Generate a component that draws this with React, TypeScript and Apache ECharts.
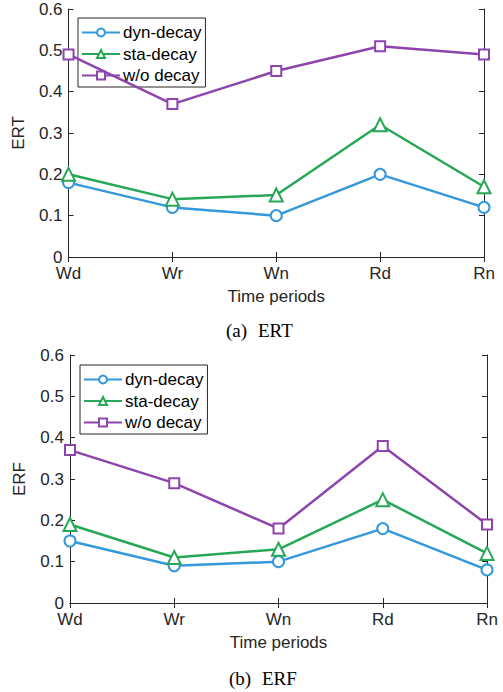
import React, { useEffect, useRef } from "react";
import * as echarts from "echarts";

const periods = ["Wd", "Wr", "Wn", "Rd", "Rn"];
const seriesNames = ["dyn-decay", "sta-decay", "w/o decay"];

const ertDyn = [0.18, 0.12, 0.10, 0.20, 0.12];
const ertSta = [0.20, 0.14, 0.15, 0.32, 0.17];
const ertWo = [0.49, 0.37, 0.45, 0.51, 0.49];

const erfDyn = [0.15, 0.09, 0.10, 0.18, 0.08];
const erfSta = [0.19, 0.11, 0.13, 0.25, 0.12];
const erfWo = [0.37, 0.29, 0.18, 0.38, 0.19];

const colors = ["#3598DB", "#27A856", "#8E44AD"];
const symbols = ["emptyCircle", "emptyTriangle", "emptyRect"];
const symbolSizes = [11, 13, 10];

const FONT = "Liberation Sans, Arial, Helvetica, sans-serif";
const SERIF = "Liberation Serif, Times New Roman, serif";
const AX = "#262626";

export default function App() {
  const ref = useRef<HTMLDivElement>(null);

  useEffect(() => {
    if (!ref.current) return;
    const chart = echarts.init(ref.current, undefined, { renderer: "svg" });

    const grids = [
      { left: 67, top: 9, width: 417, height: 248 },
      { left: 70, top: 355, width: 417, height: 248 },
    ];

    const xAxes: any[] = [];
    const yAxes: any[] = [];
    grids.forEach((g, gi) => {
      xAxes.push({
        type: "category",
        gridIndex: gi,
        data: periods,
        boundaryGap: false,
        position: "bottom",
        name: "Time periods",
        nameLocation: "middle",
        nameGap: 29,
        nameTextStyle: { fontFamily: FONT, fontSize: 17, color: AX, lineHeight: 20 },
        axisLine: { show: true, lineStyle: { color: AX, width: 1 } },
        axisTick: { show: true, inside: true, length: 5, lineStyle: { color: AX } },
        axisLabel: { fontFamily: FONT, fontSize: 17, color: AX, margin: 8 },
        splitLine: { show: false },
      });
      xAxes.push({
        type: "category",
        gridIndex: gi,
        data: periods,
        boundaryGap: false,
        position: "top",
        axisLine: { show: true, lineStyle: { color: AX, width: 1 } },
        axisTick: { show: true, inside: true, length: 5, lineStyle: { color: AX } },
        axisLabel: { show: false },
        splitLine: { show: false },
      });
      yAxes.push({
        type: "value",
        gridIndex: gi,
        min: 0,
        max: 0.6,
        interval: 0.1,
        position: "left",
        name: gi === 0 ? "ERT" : "ERF",
        nameLocation: "middle",
        nameGap: 32,
        nameTextStyle: { fontFamily: FONT, fontSize: 17, color: AX, lineHeight: 20 },
        axisLine: { show: true, lineStyle: { color: AX, width: 1 } },
        axisTick: { show: true, inside: true, length: 5, lineStyle: { color: AX } },
        axisLabel: {
          fontFamily: FONT,
          fontSize: 17,
          color: AX,
          margin: 6,
          formatter: (v: number) => (Math.round(v * 10) / 10).toString(),
        },
        splitLine: { show: false },
      });
      yAxes.push({
        type: "value",
        gridIndex: gi,
        min: 0,
        max: 0.6,
        interval: 0.1,
        position: "right",
        axisLine: { show: true, lineStyle: { color: AX, width: 1 } },
        axisTick: { show: true, inside: true, length: 5, lineStyle: { color: AX } },
        axisLabel: { show: false },
        splitLine: { show: false },
      });
    });

    const dataSets = [
      [ertDyn, ertSta, ertWo],
      [erfDyn, erfSta, erfWo],
    ];

    const series: any[] = [];
    dataSets.forEach((set, gi) => {
      set.forEach((vals, si) => {
        series.push({
          type: "line",
          name: seriesNames[si],
          xAxisIndex: gi * 2,
          yAxisIndex: gi * 2,
          data: vals,
          symbol: symbols[si],
          symbolSize: symbolSizes[si],
          showAllSymbol: true,
          color: colors[si],
          lineStyle: { color: colors[si], width: 2.5 },
          itemStyle: { color: colors[si], borderColor: colors[si], borderWidth: 2.2 },
          z: 2 + si,
        });
      });
    });

    const legendBase = {
      orient: "vertical",
      data: seriesNames,
      itemWidth: 38,
      itemHeight: 10,
      itemGap: 1.5,
      padding: [4.5, 4, 1.5, 3],
      borderColor: AX,
      borderWidth: 1,
      backgroundColor: "#ffffff",
      selectedMode: false,
      textStyle: { fontFamily: FONT, fontSize: 17, color: "#000", lineHeight: 20, padding: [0, 0, 0, -2] },
    };

    chart.setOption({
      animation: false,
      grid: grids.map((g) => ({ ...g, containLabel: false })),
      xAxis: xAxes,
      yAxis: yAxes,
      legend: [
        { ...legendBase, left: 78, top: 18 },
        { ...legendBase, left: 80, top: 365 },
      ],
      series,
      graphic: [
        {
          type: "text",
          left: 226,
          top: 321,
          style: { text: "(a)", fontFamily: SERIF, fontSize: 19, fill: "#000" },
        },
        {
          type: "text",
          left: 258,
          top: 321,
          style: { text: "ERT", fontFamily: SERIF, fontSize: 19, fill: "#000" },
        },
        {
          type: "text",
          left: 229,
          top: 669,
          style: { text: "(b)", fontFamily: SERIF, fontSize: 19, fill: "#000" },
        },
        {
          type: "text",
          left: 262,
          top: 669,
          style: { text: "ERF", fontFamily: SERIF, fontSize: 19, fill: "#000" },
        },
      ],
    });

    return () => chart.dispose();
  }, []);

  return (
    <div
      ref={ref}
      style={{ position: "absolute", left: 0, top: 0, width: 503, height: 692, background: "#fff" }}
    />
  );
}
